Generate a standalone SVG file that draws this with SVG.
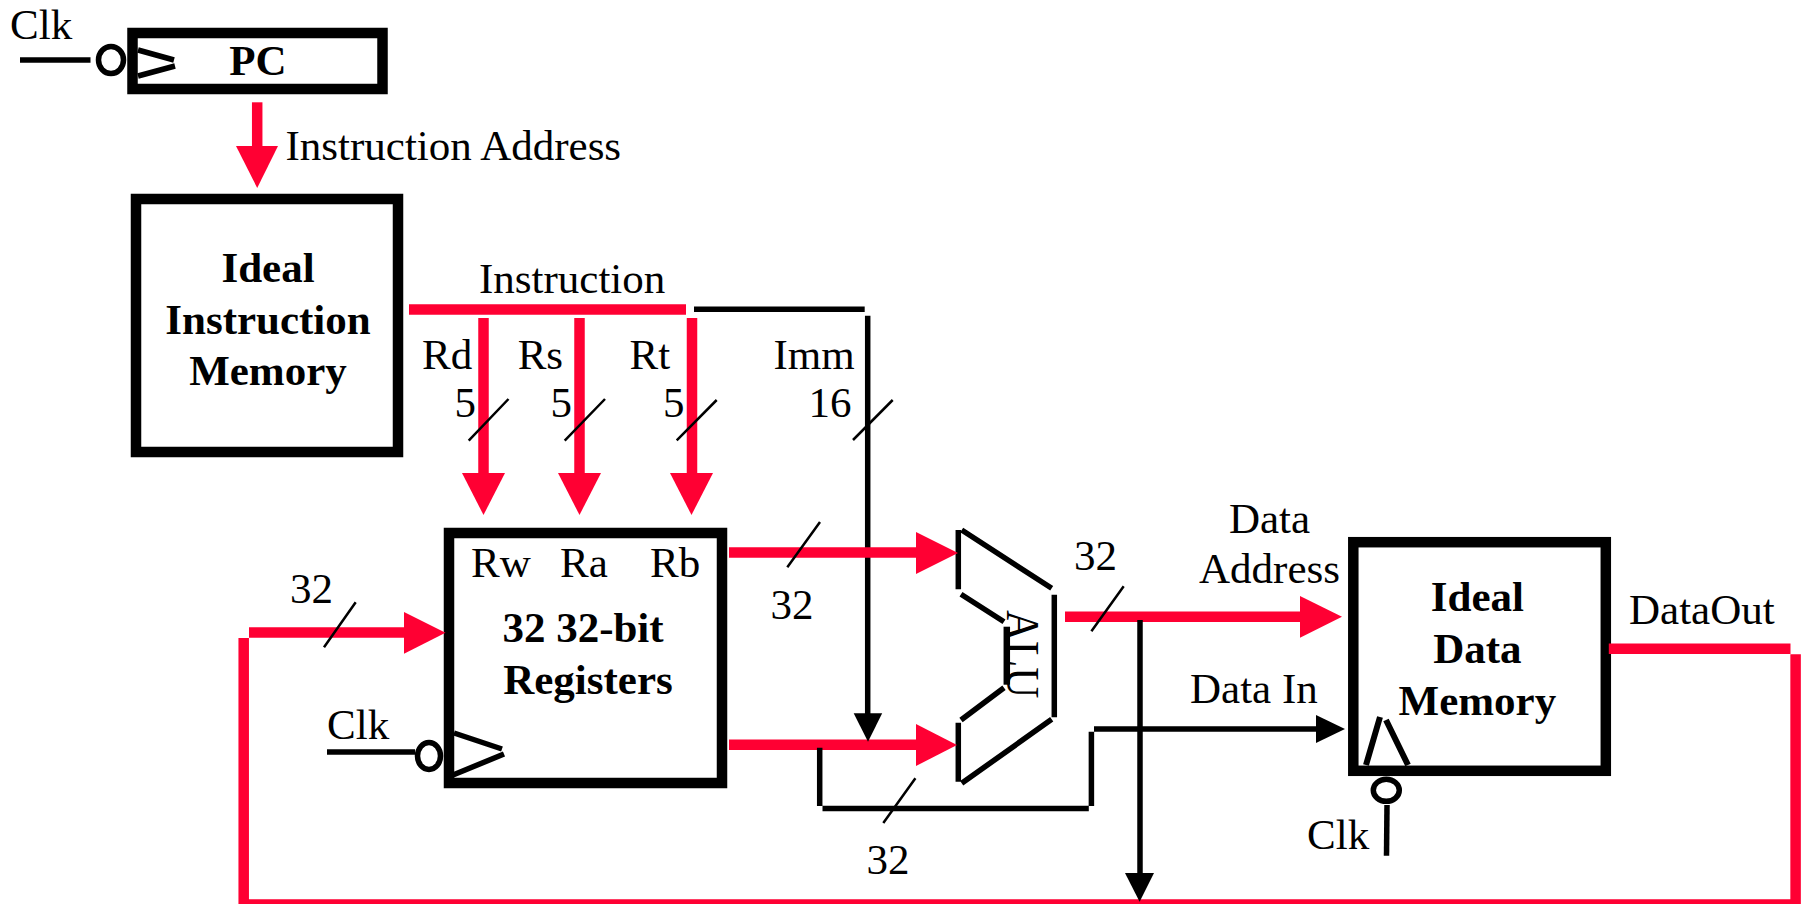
<svg xmlns="http://www.w3.org/2000/svg" width="1805" height="904" viewBox="0 0 1805 904">
<style>
text{font-family:"Liberation Serif","Times New Roman",serif;font-size:43px;fill:#000}
.b{font-weight:bold}
.m{text-anchor:middle}
.box{fill:none;stroke:#000;stroke-width:10.5}
.blk{fill:none;stroke:#000;stroke-width:5.5}
.red{fill:none;stroke:#ff0033;stroke-width:10.5}
.t{fill:none;stroke:#000;stroke-width:2.5}
.fr{fill:#ff0033}
.fk{fill:#000}
.ck{fill:none;stroke:#000;stroke-width:5.5}
</style>
<rect width="1805" height="904" fill="#fff"/>
<g id="pc">
<rect class="box" x="132.500" y="33" width="250" height="56"/>
<path class="blk" d="M138 50L174 60M138 76L175 66"/>
<ellipse class="ck" cx="111" cy="60" rx="12.500" ry="13.500"/>
<path class="blk" d="M20 60H90.500"/>
<text x="10" y="38.500">Clk</text>
<text class="b m" x="258" y="74.500">PC</text>
</g>
<g id="imem">
<rect class="box" x="136" y="199" width="262" height="253"/>
<text class="b m" x="268" y="281.500">Ideal</text>
<text class="b m" x="268" y="333.500">Instruction</text>
<text class="b m" x="268" y="384.500">Memory</text>
</g>
<g id="regs">
<rect class="box" x="449" y="533" width="273" height="250"/>
<path class="blk" d="M454 733L502 749M453 775L504 754"/>
<ellipse class="ck" cx="429" cy="756" rx="11.500" ry="13.500"/>
<path class="blk" d="M327 752H415"/>
<text x="327" y="739">Clk</text>
<text x="471" y="577">Rw</text><text x="560" y="577">Ra</text><text x="650" y="577">Rb</text>
<text class="b m" x="583" y="641.500">32 32-bit</text>
<text class="b m" x="588" y="693.500">Registers</text>
</g>
<g id="alu">
<path class="blk" d="M958.300 530V589.300M961.700 530L1051.700 588.300M961 594.300L1004 621.700M1054.300 594.700V717.300M1051.700 719.300L961.700 783.300M958.300 722.700V781.700M961 720L1004 687.700"/>
<path d="M1006.800 626.700V684.700" fill="none" stroke="#000" stroke-width="6.500"/>
<text transform="translate(1007 610) rotate(90) scale(1 1.1)">ALU</text>
</g>
<g id="dmem">
<rect class="box" x="1353.300" y="542.200" width="252.500" height="228.600"/>
<path class="blk" d="M1366 765L1380 717M1408 765L1386 720" style="stroke-width:6"/>
<ellipse class="ck" cx="1386.300" cy="790.300" rx="13" ry="11"/>
<path class="blk" d="M1387 805L1386.500 855.700"/>
<text x="1307" y="849">Clk</text>
<text class="b m" x="1477.400" y="611">Ideal</text>
<text class="b m" x="1477.400" y="663">Data</text>
<text class="b m" x="1477.400" y="714.500">Memory</text>
</g>
<g id="connectors">
<path class="blk" d="M694 309.300H864.700"/>
<path class="blk" d="M867.700 315.700V718"/>
<path class="red" d="M257.200 102.300V150"/><path class="fr" d="M236 146H278L257.200 188Z"/>
<path class="red" d="M409 309.500H686"/>
<path class="red" d="M483.500 318V475"/><path class="fr" d="M462 473H505L483.500 515Z"/>
<path class="red" d="M579.500 318V475"/><path class="fr" d="M558 473H601L579.500 515Z"/>
<path class="red" d="M692 318V475"/><path class="fr" d="M670 473H713L691.500 515Z"/>
<path class="red" d="M729 552.500H920"/><path class="fr" d="M916 532L958 553L916 574Z"/>
<path class="red" d="M729 744.700H920"/><path class="fr" d="M916 724L957 745L916 766Z"/>
<path class="fk" d="M853.700 713.300H882.200L868 741.700Z"/>
<path class="red" d="M249 632.500H410"/><path class="fr" d="M404 612L445.500 632.700L404 653.700Z"/>
<path class="red" d="M1065 616.700H1305"/><path class="fr" d="M1300 596L1342 616.700L1300 637.700Z"/>
<path class="red" d="M1608.800 648.700H1790.500"/>
<path class="red" d="M243.700 638V904M244 904.500H1800M1795.600 654.300V904"/>
<path class="blk" d="M1140 620V880"/><path class="fk" d="M1125 873H1154L1139.600 901.700Z"/>
<path class="blk" d="M819.700 747.700V806M822.500 808.500H1088.800M1091.400 731.700V806M1094 729H1320"/>
<path class="fk" d="M1316 715L1345 729L1316 743Z"/>
<path class="t" d="M468.700 440.700L508.500 399M564.700 440.700L605 399M676.700 440.300L716.700 400M853 440L892.700 400M787.300 567.300L820 522M324 647.300L355.700 602.300M883.300 823L915.400 778.300M1091.400 631.300L1123.700 586.300"/>
</g>
<g id="labels">
<text x="285.500" y="159.500">Instruction Address</text>
<text x="479" y="292.500">Instruction</text>
<text x="422" y="369">Rd</text><text x="517.700" y="369">Rs</text><text x="629.500" y="369">Rt</text><text x="773.500" y="369">Imm</text>
<text x="454.500" y="417">5</text><text x="550.500" y="417">5</text><text x="663" y="417">5</text><text x="808.500" y="417">16</text>
<text x="290" y="602.500">32</text><text x="770.500" y="618.500">32</text><text x="866.500" y="874">32</text><text x="1074" y="570">32</text>
<text class="m" x="1269.500" y="532.500">Data</text><text class="m" x="1269.500" y="583">Address</text>
<text x="1190" y="702.500">Data In</text><text x="1629" y="624">DataOut</text>
</g>
</svg>
